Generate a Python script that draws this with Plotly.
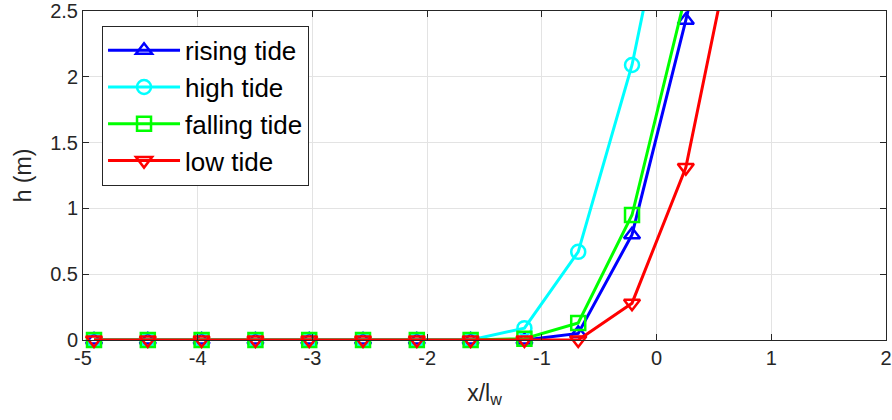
import plotly.graph_objects as go

x_pos = [-4.904, -4.435, -3.966, -3.497, -3.028, -2.559, -2.090, -1.621, -1.152, -0.683, -0.214, 0.255, 0.724]
h_rising = [0, 0, 0, 0, 0, 0, 0, 0, 0.0, 0.05, 0.80, 2.43, 4.2]
h_high = [0, 0, 0, 0, 0, 0, 0, 0, 0.09, 0.67, 2.09, 4.07]
h_falling = [0, 0, 0, 0, 0, 0, 0, 0, 0.01, 0.13, 0.95, 2.63]
h_low = [0, 0, 0, 0, 0, 0, 0, 0, 0, 0, 0.28, 1.31, 3.30]

series = [
    ("rising tide", h_rising, "#0000FF", "triangle-up-open"),
    ("high tide", h_high, "#00FFFF", "circle-open"),
    ("falling tide", h_falling, "#00FF00", "square-open"),
    ("low tide", h_low, "#FF0000", "triangle-down-open"),
]

x_ticks = [-5, -4, -3, -2, -1, 0, 1, 2]
x_ticktext = ["-5", "-4", "-3", "-2", "-1", "0", "1", "2"]
y_ticks = [0, 0.5, 1, 1.5, 2, 2.5]
y_ticktext = ["0", "0.5", "1", "1.5", "2", "2.5"]

fig = go.Figure()
for i, (name, h, col, sym) in enumerate(series):
    fig.add_trace(go.Scatter(
        x=x_pos[:len(h)], y=h, name=name, mode="lines+markers",
        line=dict(color=col, width=3),
        marker=dict(symbol=sym, size=14, color=col, line=dict(color=col, width=2.5)),
        cliponaxis=False,
    ))

font = "Liberation Sans, Arial, Helvetica, sans-serif"
axis_common = dict(
    showline=True, linecolor="#262626", linewidth=1, mirror="ticks",
    ticks="inside", ticklen=6, tickcolor="#262626",
    showgrid=True, gridcolor="#E3E3E3", gridwidth=1, zeroline=False,
    tickfont=dict(family=font, size=20, color="#262626"),
    ticklabeloverflow="allow", automargin=False,
)
fig.update_layout(
    width=892, height=420,
    margin=dict(l=83, r=6, t=11, b=80),
    paper_bgcolor="white", plot_bgcolor="white",
    showlegend=True,
    legend=dict(
        x=0.0237, y=0.955, xanchor="left", yanchor="top",
        bordercolor="#262626", borderwidth=1, bgcolor="white",
        font=dict(family=font, size=26, color="black"),
        itemwidth=72,
        entrywidth=230,
    ),
    xaxis=dict(range=[-5, 2], tickvals=x_ticks, ticktext=x_ticktext,
               title=dict(text="x/l<sub>w</sub>", font=dict(family=font, size=23, color="#262626"), standoff=16),
               **axis_common),
    yaxis=dict(range=[0, 2.5], tickvals=y_ticks, ticktext=y_ticktext,
               title=dict(text="h (m)", font=dict(family=font, size=23, color="#262626"), standoff=12),
               **axis_common),
)
fig.write_html("out.html")
